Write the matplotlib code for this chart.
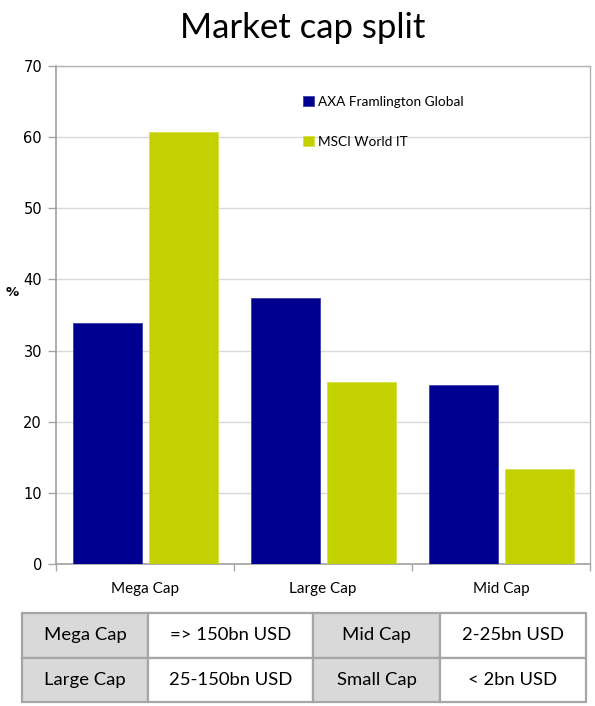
import numpy as np
import matplotlib
matplotlib.use("Agg")
import matplotlib.pyplot as plt

categories = ["Mega Cap", "Large Cap", "Mid Cap"]
axa_values = [33.9, 37.4, 25.2]
msci_values = [60.7, 25.6, 13.4]
series_names = ["AXA Framlington Global", "MSCI World IT"]

table_rows = [["Mega Cap", "=> 150bn USD", "Mid Cap", "2-25bn USD"],
              ["Large Cap", "25-150bn USD", "Small Cap", "< 2bn USD"]]

NAVY = "#000090"
LIME = "#c4d100"
GRID = "#d9d9d9"
SPINE = "#a6a6a6"
FONT = "Lato"

fig = plt.figure(figsize=(5.95, 7.06), dpi=100)
ax = fig.add_axes([56 / 595, 142 / 706, 534 / 595, 498 / 706])

x = np.arange(len(categories))
width = 0.388
ax.bar(x - 0.213, axa_values, width, color=NAVY, edgecolor="#3b3ba8", linewidth=0.6,
       label=series_names[0], zorder=3)
ax.bar(x + 0.214, msci_values, width, color=LIME, edgecolor="#d6e04a", linewidth=0.6,
       label=series_names[1], zorder=3)

ax.set_xlim(-0.5, 2.5)
ax.set_ylim(0, 70)
ax.set_yticks(np.arange(0, 71, 10))
ax.yaxis.grid(True, color=GRID, linewidth=1.0, zorder=0)
ax.set_axisbelow(True)

ax.set_xticks(x)
ax.set_xticklabels(categories, fontfamily=FONT, fontsize=11)
ax.set_xticks(np.arange(-0.5, 3, 1), minor=True)
ax.tick_params(axis="x", which="major", length=0, pad=13)
ax.tick_params(axis="x", which="minor", length=5, color=SPINE, width=1)
ax.tick_params(axis="y", length=6, color=SPINE, width=1, labelsize=10.5, pad=4)

for side in ["left", "bottom"]:
    ax.spines[side].set_color("#a0a0a0")
    ax.spines[side].set_linewidth(1.2)
for side in ["top", "right"]:
    ax.spines[side].set_color("#b4b4b4")
    ax.spines[side].set_linewidth(1.0)

ax.text(-0.082, 0.545, "%", transform=ax.transAxes, fontsize=9.5, fontweight="bold",
        ha="center", va="center")

ax.legend(loc="upper left", bbox_to_anchor=(0.462, 0.94), frameon=False,
          prop={"family": FONT, "size": 9.8}, handlelength=0.8, handleheight=0.8,
          handletextpad=0.3, labelspacing=2.05, borderpad=0, borderaxespad=0)

fig.text(0.508, 0.946, "Market cap split", fontfamily=FONT, fontsize=25,
         ha="center", va="baseline")

# size bands table under the chart
tax = fig.add_axes([22 / 595, 4 / 706, 564 / 595, 89 / 706])
tax.axis("off")
col_px = np.array([126, 165, 127, 146])
cell_colours = [["#d9d9d9", "white", "#d9d9d9", "white"]] * 2
tbl = tax.table(cellText=table_rows, cellColours=cell_colours, cellLoc="center",
                colWidths=list(col_px / col_px.sum()), bbox=[0, 0, 1, 1])
tbl.auto_set_font_size(False)
for cell in tbl.get_celld().values():
    cell.set_edgecolor(SPINE)
    cell.set_linewidth(1.6)
    cell.get_text().set_fontfamily(FONT)
    cell.get_text().set_fontsize(13.3)

fig.savefig("out.png", dpi=100)
